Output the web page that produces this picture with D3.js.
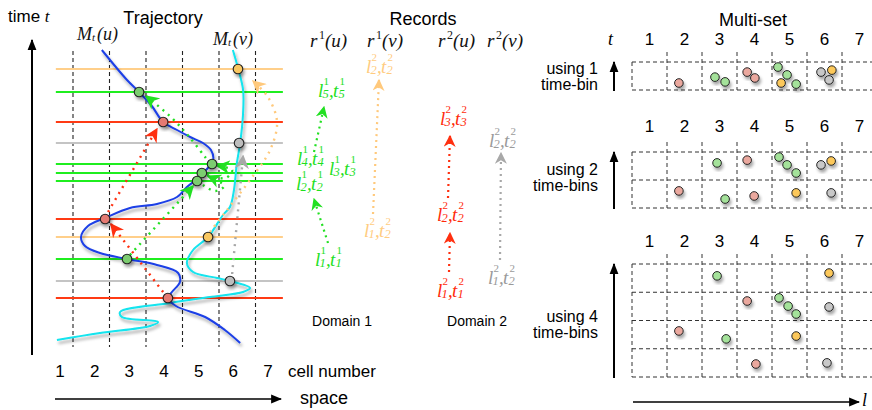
<!DOCTYPE html>
<html>
<head>
<meta charset="utf-8">
<script src="https://cdn.jsdelivr.net/npm/d3@7"></script>
<style>
  body { margin: 0; background: #fff; }
  svg { display: block; }
</style>
</head>
<body>
<svg id="fig" width="872" height="410"></svg>
<script>
// ---- data -------------------------------------------------------------
const cells = [1, 2, 3, 4, 5, 6, 7];

// trajectory of u and v, as [space (cells), time]
const pathU = [[1.79,300],[2.48,270],[2.81,258],[3.16,244],[3.47,228],[3.85,220],[4.21,213],[4.56,207],
  [4.78,200],[4.84,190],[4.62,179],[4.40,171],[4.12,163],[3.85,153],[3.30,146],[2.56,142],[1.88,132],
  [1.41,124],[1.22,113],[1.33,104],[1.74,97],[2.48,91],[3.30,85],[3.88,77],[3.93,68],[3.71,58],
  [3.60,52],[3.82,44],[4.62,33],[5.16,20],[5.58,7]];
const pathV = [[5.38,300],[5.52,282],[5.66,260],[5.66,237],[5.58,207],[5.49,187],[5.41,160],[5.30,143],
  [5.11,135],[4.70,113],[4.29,100],[4.12,87],[4.29,78],[4.95,72],[5.30,69],[5.85,62],[5.66,58],
  [4.75,53],[3.66,47],[2.29,38],[2.34,33],[3.33,28],[3.11,24],[1.74,17],[0.56,10]];

// sampled records: where a time line cuts a trajectory
const records = [
  {kind: "orange", s: 5.52, t: 281},
  {kind: "green",  s: 2.81, t: 258},
  {kind: "red",    s: 3.47, t: 228},
  {kind: "gray",   s: 5.55, t: 207},
  {kind: "green",  s: 4.81, t: 186},
  {kind: "green",  s: 4.53, t: 177},
  {kind: "green",  s: 4.40, t: 169},
  {kind: "red",    s: 1.88, t: 131},
  {kind: "orange", s: 4.70, t: 113},
  {kind: "green",  s: 2.48, t: 91},
  {kind: "gray",   s: 5.30, t: 69},
  {kind: "red",    s: 3.60, t: 52}
];

const trajArrows = [
  {kind: "red",    pts: [[3.47,58],[2.04,126]]},
  {kind: "red",    pts: [[1.96,138],[3.30,221]]},
  {kind: "green",  pts: [[2.56,95],[4.29,164]]},
  {kind: "green",  pts: [[4.56,165],[4.89,159],[5.14,164],[4.70,174]]},
  {kind: "green",  pts: [[4.67,175],[5.19,172],[5.36,180],[4.95,184]]},
  {kind: "green",  pts: [[4.64,192],[4.21,212],[3.71,232],[3.00,254]]},
  {kind: "orange", pts: [[4.75,118],[5.22,140],[5.85,170],[6.40,200],[6.59,228],[6.34,253],[5.93,269]]},
  {kind: "gray",   pts: [[5.36,76],[5.66,194]]}
];

// record labels  l^sup_li , t^sup_ti
const recLabels = [
  {kind: "green",  li: 5, ti: 5, sup: 1, x: 318, y: 97},
  {kind: "green",  li: 4, ti: 4, sup: 1, x: 297, y: 165},
  {kind: "green",  li: 3, ti: 3, sup: 1, x: 329, y: 175},
  {kind: "green",  li: 2, ti: 2, sup: 1, x: 296, y: 190},
  {kind: "green",  li: 1, ti: 1, sup: 1, x: 315, y: 266},
  {kind: "orange", li: 2, ti: 2, sup: 2, x: 366, y: 73},
  {kind: "orange", li: 1, ti: 2, sup: 2, x: 364, y: 237},
  {kind: "red",    li: 3, ti: 3, sup: 2, x: 440, y: 125},
  {kind: "red",    li: 2, ti: 2, sup: 2, x: 437, y: 221},
  {kind: "red",    li: 1, ti: 1, sup: 2, x: 437, y: 297},
  {kind: "gray",   li: 2, ti: 2, sup: 2, x: 489, y: 147},
  {kind: "gray",   li: 1, ti: 2, sup: 2, x: 488, y: 284}
];
const recArrows = [
  {kind: "green",  pts: [[328,243],[314,199]]},
  {kind: "green",  pts: [[314,152],[324,107]]},
  {kind: "orange", pts: [[373,214],[379,80]]},
  {kind: "red",    pts: [[448,198],[450,136]]},
  {kind: "red",    pts: [[449,272],[450,233]]},
  {kind: "gray",   pts: [[500,260],[501,153]]}
];
const recHeads = [
  {text: "1", who: "u", x: 310},
  {text: "1", who: "v", x: 367},
  {text: "2", who: "u", x: 438},
  {text: "2", who: "v", x: 487}
];

// multi-set dots: [kind, cell position, time-bin position]
const ms1 = [["red",1.34,0.25],["green",2.37,0.46],["green",2.66,0.29],["red",3.29,0.64],["red",3.51,0.43],
  ["green",4.17,0.82],["green",4.43,0.54],["green",4.69,0.21],["orange",4.26,0.25],
  ["gray",5.40,0.64],["orange",5.71,0.71],["gray",5.63,0.36]];
const ms2 = [["green",2.43,1.61],["red",3.29,1.71],["green",4.20,1.82],["green",4.43,1.54],["green",4.69,1.25],
  ["gray",5.40,1.54],["orange",5.69,1.68],["red",1.34,0.61],["green",2.66,0.32],["red",3.49,0.43],
  ["orange",4.69,0.54],["gray",5.69,0.54]];
const ms4 = [["green",2.43,3.58],["orange",5.63,3.68],["red",3.29,2.69],["green",4.20,2.80],["green",4.46,2.51],
  ["green",4.69,2.23],["gray",5.63,2.48],["red",1.34,1.63],["green",2.69,1.35],["orange",4.69,1.45],
  ["red",3.54,0.46],["gray",5.57,0.50]];

// ---- styles -----------------------------------------------------------
const lineCol = {orange: "#ffcf8a", green: "#1fee1f", red: "#ff3a14", gray: "#c4c4c4"};
const arrowCol = {orange: "#ffc97c", green: "#22e022", red: "#ff3010", gray: "#a8a8a8"};
const textCol = {orange: "#ffcc80", green: "#1ee01e", red: "#ff2a0a", gray: "#9a9a9a"};
const dotCol = {orange: "#f9c760", green: "#7ccc70", red: "#e57a72", gray: "#bdbdbd"};
const msCol = {orange: "#fcc85a", green: "#a4e29a", red: "#eaa89e", gray: "#c8c8c8"};
const SANS = "Liberation Sans, Arial, Helvetica, sans-serif";
const SERIF = "Liberation Serif, Times New Roman, serif";

const svg = d3.select("#fig");
const defs = svg.append("defs");
defs.append("filter").attr("id", "shadow").attr("x", "-50%").attr("y", "-50%")
    .attr("width", "200%").attr("height", "200%")
  .append("feDropShadow").attr("dx", 1.5).attr("dy", 3).attr("stdDeviation", 1.8)
    .attr("flood-color", "#000").attr("flood-opacity", 0.35);

function marker(id, color, size, notch) {
  defs.append("marker")
      .attr("id", id)
      .attr("viewBox", "0 -5 10 10")
      .attr("refX", 9)
      .attr("markerUnits", "userSpaceOnUse")
      .attr("markerWidth", size)
      .attr("markerHeight", size)
      .attr("orient", "auto")
    .append("path")
      .attr("d", notch ? "M0,-5L10,0L0,5L3,0Z" : "M0,-4L10,0L0,4Z")
      .attr("fill", color);
}
Object.keys(arrowCol).forEach(k => {
  marker("big-" + k, arrowCol[k], 14, true);
  marker("small-" + k, arrowCol[k], 12, true);
});
marker("black", "#000", 11, false);

// ---- trajectory panel --------------------------------------------------
const x = d3.scaleLinear().domain([0, 7]).range([36.5, 292]);
const y = d3.scaleLinear().domain([0, 300]).range([350, 50]);
const cellLabelX = d3.scaleLinear().domain([1, 7]).range([60, 268]);

const traj = svg.append("g");

traj.selectAll(".cellLine")
  .data(d3.range(1, 7))
  .enter().append("line")
    .attr("x1", d => x(d)).attr("x2", d => x(d))
    .attr("y1", y(299)).attr("y2", y(3))
    .attr("stroke", "#222").attr("stroke-width", 1.1)
    .attr("stroke-dasharray", "4,3");

traj.selectAll(".timeLine")
  .data(records)
  .enter().append("line")
    .attr("x1", x(0.53)).attr("x2", x(6.75))
    .attr("y1", d => y(d.t)).attr("y2", d => y(d.t))
    .attr("stroke", d => lineCol[d.kind]).attr("stroke-width", 2);

const curve = d3.line()
    .x(d => x(d[0])).y(d => y(d[1]))
    .curve(d3.curveCatmullRom.alpha(0.5));

traj.append("path").attr("d", curve(pathV))
    .attr("fill", "none").attr("stroke", "#12e4ee").attr("stroke-width", 2)
    .attr("filter", "url(#shadow)");
traj.append("path").attr("d", curve(pathU))
    .attr("fill", "none").attr("stroke", "#1c3fe6").attr("stroke-width", 2)
    .attr("filter", "url(#shadow)");

traj.selectAll(".arrow")
  .data(trajArrows)
  .enter().append("path")
    .attr("d", d => curve(d.pts))
    .attr("fill", "none")
    .attr("stroke", d => arrowCol[d.kind]).attr("stroke-width", 2.4)
    .attr("stroke-dasharray", "2,5")
    .attr("marker-end", d => "url(#big-" + d.kind + ")");

traj.selectAll(".rec")
  .data(records)
  .enter().append("circle")
    .attr("cx", d => x(d.s)).attr("cy", d => y(d.t)).attr("r", 4.8)
    .attr("fill", d => dotCol[d.kind]).attr("stroke", "#222").attr("stroke-width", 1.1)
    .attr("filter", "url(#shadow)");

// axes of the trajectory panel
svg.append("line").attr("x1", 32).attr("x2", 32).attr("y1", 355).attr("y2", 40)
    .attr("stroke", "#000").attr("stroke-width", 2).attr("marker-end", "url(#black)");
svg.append("line").attr("x1", 55).attr("x2", 281).attr("y1", 399).attr("y2", 399)
    .attr("stroke", "#000").attr("stroke-width", 1.6).attr("marker-end", "url(#black)");

svg.selectAll(".cellNum")
  .data(cells)
  .enter().append("text")
    .attr("x", d => cellLabelX(d)).attr("y", 377)
    .attr("text-anchor", "middle")
    .attr("font-family", SANS).attr("font-size", 17)
    .text(d => d);

svg.append("text").attr("x", 288).attr("y", 377)
    .attr("font-family", SANS).attr("font-size", 17).text("cell number");
svg.append("text").attr("x", 300).attr("y", 404)
    .attr("font-family", SANS).attr("font-size", 18).text("space");

const tt = svg.append("text").attr("x", 8).attr("y", 22)
    .attr("font-family", SANS).attr("font-size", 17);
tt.append("tspan").text("time ");
tt.append("tspan").attr("font-family", SERIF).attr("font-style", "italic").text("t");

svg.append("text").attr("x", 163).attr("y", 24).attr("text-anchor", "middle")
    .attr("font-family", SANS).attr("font-size", 18).text("Trajectory");

function mLabel(px, py, who) {
  const g = svg.append("g").attr("font-family", SERIF).attr("font-style", "italic").attr("fill", "#111");
  g.append("text").attr("x", px).attr("y", py).attr("font-size", 18).text("M");
  g.append("text").attr("x", px + 15).attr("y", py + 1).attr("font-size", 11).text("t");
  g.append("text").attr("x", px + 20).attr("y", py).attr("font-size", 18).text("(" + who + ")");
}
mLabel(77, 40, "u");
mLabel(213, 45, "v");

// ---- records panel -----------------------------------------------------
svg.append("text").attr("x", 423).attr("y", 25).attr("text-anchor", "middle")
    .attr("font-family", SANS).attr("font-size", 18).text("Records");

recHeads.forEach(h => {
  const g = svg.append("g").attr("font-family", SERIF).attr("font-style", "italic").attr("fill", "#111");
  g.append("text").attr("x", h.x).attr("y", 47).attr("font-size", 19).text("r");
  g.append("text").attr("x", h.x + 9).attr("y", 39).attr("font-size", 12).attr("font-style", "normal").text(h.text);
  g.append("text").attr("x", h.x + 15).attr("y", 47).attr("font-size", 19).text("(" + h.who + ")");
});

svg.selectAll(".recArrow")
  .data(recArrows)
  .enter().append("path")
    .attr("d", d => d3.line()(d.pts))
    .attr("fill", "none")
    .attr("stroke", d => arrowCol[d.kind]).attr("stroke-width", 2.2)
    .attr("stroke-dasharray", "2,4")
    .attr("marker-end", d => "url(#small-" + d.kind + ")");

recLabels.forEach(d => {
  const g = svg.append("g").attr("font-family", SERIF).attr("font-style", "italic")
      .attr("fill", textCol[d.kind]);
  g.append("text").attr("x", d.x).attr("y", d.y).attr("font-size", 19).text("l");
  g.append("text").attr("x", d.x + 4.5).attr("y", d.y + 1).attr("font-size", 12.5).text(d.li);
  g.append("text").attr("x", d.x + 5.5).attr("y", d.y - 12).attr("font-size", 11).attr("font-style", "normal").text(d.sup);
  g.append("text").attr("x", d.x + 11).attr("y", d.y).attr("font-size", 19).text(",");
  g.append("text").attr("x", d.x + 15).attr("y", d.y).attr("font-size", 19).text("t");
  g.append("text").attr("x", d.x + 20.5).attr("y", d.y + 1).attr("font-size", 12.5).text(d.ti);
  g.append("text").attr("x", d.x + 21.5).attr("y", d.y - 12).attr("font-size", 11).attr("font-style", "normal").text(d.sup);
});

svg.append("text").attr("x", 342).attr("y", 326).attr("text-anchor", "middle")
    .attr("font-family", SANS).attr("font-size", 14).text("Domain 1");
svg.append("text").attr("x", 477).attr("y", 326).attr("text-anchor", "middle")
    .attr("font-family", SANS).attr("font-size", 14).text("Domain 2");

// ---- multi-set panel ---------------------------------------------------
const mx = d3.scaleLinear().domain([0, 7]).range([632, 877]);

svg.append("text").attr("x", 753).attr("y", 26).attr("text-anchor", "middle")
    .attr("font-family", SANS).attr("font-size", 18).text("Multi-set");
svg.append("text").attr("x", 608).attr("y", 45)
    .attr("font-family", SERIF).attr("font-style", "italic").attr("font-size", 18).text("t");

const grids = [
  {bins: 1, top: 62, bottom: 90, numY: 45, label: ["using 1", "time-bin"], labelY: 74, dots: ms1},
  {bins: 2, top: 152, bottom: 208, numY: 132, label: ["using 2", "time-bins"], labelY: 175, dots: ms2},
  {bins: 4, top: 264, bottom: 377, numY: 247, label: ["using 4", "time-bins"], labelY: 322, dots: ms4}
];

grids.forEach(gr => {
  const my = d3.scaleLinear().domain([0, gr.bins]).range([gr.bottom, gr.top]);
  const g = svg.append("g");

  g.selectAll(".num").data(cells).enter().append("text")
      .attr("x", d => mx(d - 0.5)).attr("y", gr.numY)
      .attr("text-anchor", "middle")
      .attr("font-family", SANS).attr("font-size", 17)
      .text(d => d);

  g.selectAll(".hl").data(d3.range(0, gr.bins + 1)).enter().append("line")
      .attr("x1", mx(0)).attr("x2", 880)
      .attr("y1", d => my(d)).attr("y2", d => my(d))
      .attr("stroke", "#333").attr("stroke-width", 1).attr("stroke-dasharray", "4,3");
  g.append("line")
      .attr("x1", mx(0)).attr("x2", mx(0)).attr("y1", my(gr.bins)).attr("y2", my(0))
      .attr("stroke", "#333").attr("stroke-width", 1).attr("stroke-dasharray", "4,3");
  g.selectAll(".vl").data(d3.range(1, 7)).enter().append("line")
      .attr("x1", d => mx(d)).attr("x2", d => mx(d))
      .attr("y1", my(gr.bins) - 10).attr("y2", my(0))
      .attr("stroke", "#333").attr("stroke-width", 1).attr("stroke-dasharray", "4,3");

  g.selectAll(".dot").data(gr.dots).enter().append("circle")
      .attr("cx", d => mx(d[1])).attr("cy", d => my(d[2])).attr("r", 4.3)
      .attr("fill", d => msCol[d[0]]).attr("stroke", "#222").attr("stroke-width", 1)
      .attr("filter", "url(#shadow)");

  // little time arrow and the text on its left
  g.append("line")
      .attr("x1", 614).attr("x2", 614).attr("y1", gr.bottom + 1).attr("y2", gr.top)
      .attr("stroke", "#000").attr("stroke-width", 2).attr("marker-end", "url(#black)");
  gr.label.forEach((s, i) => {
    g.append("text").attr("x", 598).attr("y", gr.labelY + i * 16)
        .attr("text-anchor", "end")
        .attr("font-family", SANS).attr("font-size", 16).text(s);
  });
});

svg.append("line").attr("x1", 633).attr("x2", 859).attr("y1", 402).attr("y2", 402)
    .attr("stroke", "#000").attr("stroke-width", 1.6).attr("marker-end", "url(#black)");
svg.append("text").attr("x", 862).attr("y", 406)
    .attr("font-family", SERIF).attr("font-style", "italic").attr("font-size", 18).text("l");
</script>
</body>
</html>
